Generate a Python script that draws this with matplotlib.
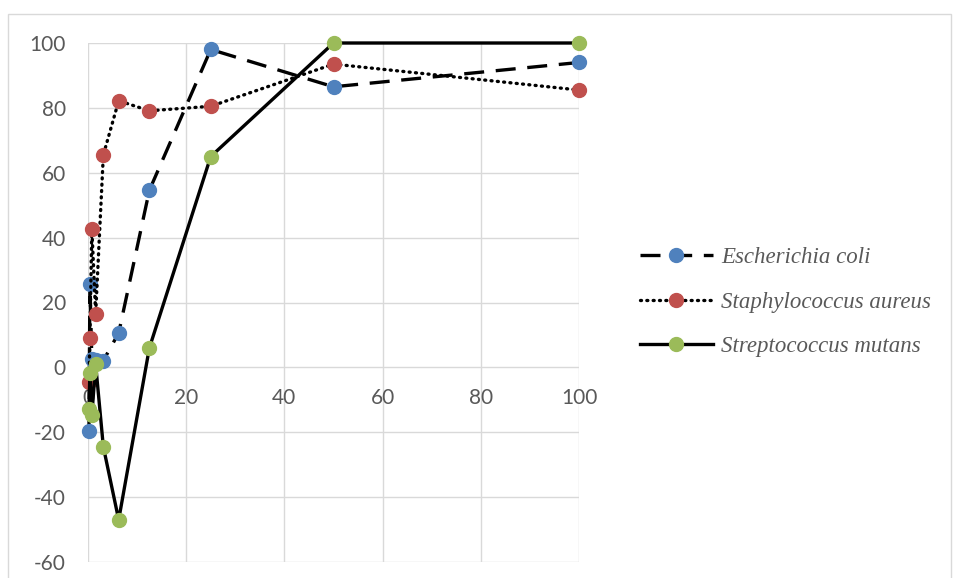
import matplotlib
matplotlib.use('Agg')
import matplotlib.pyplot as plt
from matplotlib.patches import Rectangle

# concentrations (two-fold dilution series)
conc = [0.195, 0.39, 0.78, 1.56, 3.125, 6.25, 12.5, 25, 50, 100]

# inhibition (%) per organism
e_coli = [-19.5, 25.6, 2.6, 2.4, 2.1, 10.6, 54.6, 98.0, 86.5, 94.0]
s_aureus = [-4.6, 9.2, 42.8, 16.6, 65.5, 82.2, 79.1, 80.5, 93.5, 85.5]
s_mutans = [-12.7, -1.6, -14.8, 0.9, -24.5, -47.0, 6.0, 65.0, 100.0, 100.0]

names = ['Escherichia coli', 'Staphylococcus aureus', 'Streptococcus mutans']

xticks = [0, 20, 40, 60, 80, 100]
yticks = [-60, -40, -20, 0, 20, 40, 60, 80, 100]
xlabels = [str(v) for v in xticks]
ylabels = [str(v) for v in yticks]  # plain hyphen minus

fig = plt.figure(figsize=(9.56, 5.78), dpi=100)
fig.patches.append(Rectangle((8/956, -0.02), 943/956, (578-14)/578 + 0.02,
                             transform=fig.transFigure, fill=False,
                             edgecolor='#d9d9d9', linewidth=1))

ax = fig.add_axes([88/956, 16/578, 491/956, 519/578])

l1, = ax.plot(conc, e_coli, color='black', lw=2.4, dashes=(6, 3.5),
              marker='o', ms=10, mfc='#4f81bd', mec='#4f81bd', label=names[0])
l2, = ax.plot(conc, s_aureus, color='black', lw=2.4, linestyle=(0, (0.3, 1.6)),
              dash_capstyle='round', marker='o', ms=10, mfc='#c0504d', mec='#c0504d',
              label=names[1])
l3, = ax.plot(conc, s_mutans, color='black', lw=2.4, marker='o', ms=10,
              mfc='#9bbb59', mec='#9bbb59', label=names[2])
for ln in (l1, l2, l3):
    ln.set_clip_on(False)

ax.set_xlim(0, 100)
ax.set_ylim(-60, 100)
ax.set_xticks(xticks)
ax.set_xticklabels(xlabels)
ax.set_yticks(yticks)
ax.set_yticklabels(ylabels)
ax.grid(True, color='#d9d9d9', linewidth=1)
ax.set_axisbelow(True)
for sp in ax.spines.values():
    sp.set_visible(False)
ax.spines['bottom'].set_position(('data', 0))
ax.tick_params(axis='both', length=0, labelsize=15, labelcolor='#595959')
ax.tick_params(axis='x', pad=15)
ax.tick_params(axis='y', pad=16)
for lab in ax.get_xticklabels() + ax.get_yticklabels():
    lab.set_fontfamily('Lato')

leg = fig.legend(loc='center left', bbox_to_anchor=(619/956, 1 - 302/578),
                 frameon=False, handlelength=3.2, handletextpad=0.36,
                 labelspacing=1.02,
                 prop={'family': 'Liberation Serif', 'style': 'italic', 'size': 16.5})
for t in leg.get_texts():
    t.set_color('#595959')

fig.savefig('out.png', dpi=100)
